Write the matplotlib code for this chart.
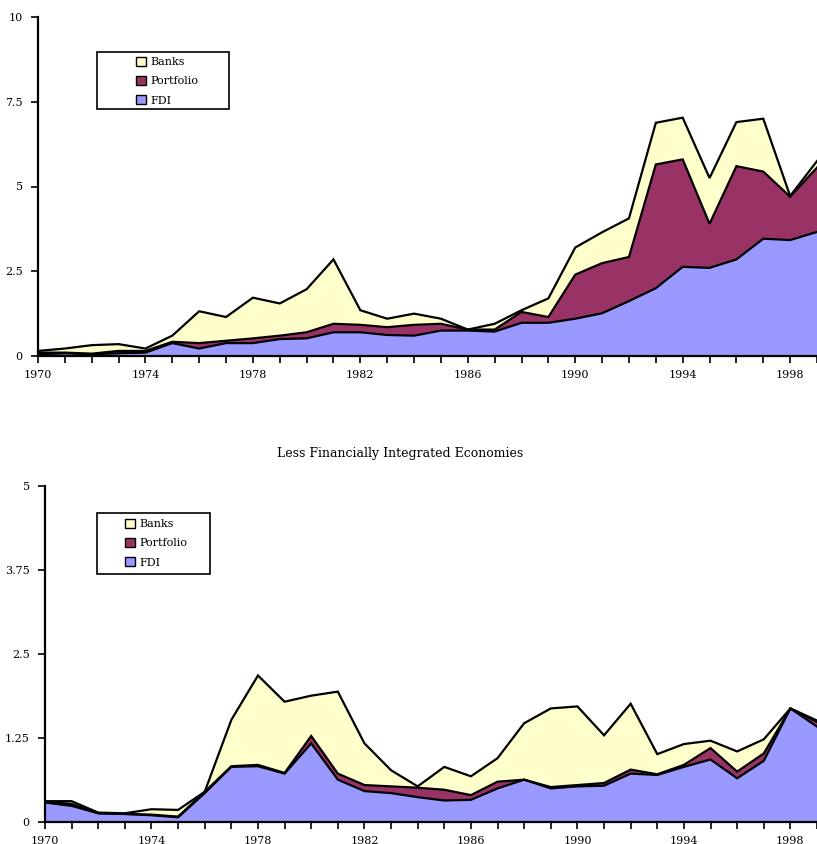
import numpy as np
import matplotlib
matplotlib.use("Agg")
import matplotlib.pyplot as plt
from matplotlib.patches import Patch, Rectangle

plt.rcParams["font.family"] = ["DejaVu Serif", "Liberation Serif"]

years = np.arange(1970, 2000)
series_names = ["Banks", "Portfolio", "FDI"]
colors = {"Banks": "#FFFFCC", "Portfolio": "#993366", "FDI": "#9999FF"}

# More financially integrated economies (top panel)
top_fdi = [0.05, 0.08, 0.05, 0.08, 0.10, 0.38, 0.22, 0.38, 0.38, 0.50,
           0.52, 0.70, 0.70, 0.62, 0.60, 0.75, 0.75, 0.72, 0.98, 0.98,
           1.10, 1.26, 1.62, 2.00, 2.63, 2.60, 2.85, 3.46, 3.42, 3.66]
top_portfolio = [0.05, 0.02, 0.02, 0.07, 0.05, 0.04, 0.16, 0.07, 0.14, 0.10,
                 0.18, 0.25, 0.22, 0.23, 0.32, 0.20, 0.03, 0.06, 0.32, 0.17,
                 1.30, 1.48, 1.30, 3.65, 3.17, 1.30, 2.75, 1.98, 1.28, 1.90]
top_banks = [0.05, 0.12, 0.25, 0.20, 0.07, 0.18, 0.94, 0.70, 1.20, 0.95,
             1.27, 1.90, 0.43, 0.25, 0.33, 0.15, 0.00, 0.17, 0.05, 0.55,
             0.80, 0.91, 1.14, 1.23, 1.23, 1.35, 1.30, 1.56, 0.02, 0.19]

# Less financially integrated economies (bottom panel)
bot_fdi = [0.29, 0.24, 0.13, 0.12, 0.10, 0.07, 0.43, 0.82, 0.83, 0.72,
           1.17, 0.63, 0.46, 0.43, 0.37, 0.32, 0.33, 0.50, 0.63, 0.50,
           0.53, 0.54, 0.72, 0.70, 0.82, 0.93, 0.65, 0.91, 1.69, 1.42]
bot_portfolio = [0.01, 0.03, 0.00, 0.00, 0.01, 0.01, 0.02, 0.01, 0.02, 0.01,
                 0.11, 0.09, 0.09, 0.10, 0.14, 0.16, 0.07, 0.10, 0.00, 0.02,
                 0.02, 0.04, 0.06, 0.01, 0.03, 0.17, 0.10, 0.11, 0.00, 0.07]
bot_banks = [0.01, 0.04, 0.01, 0.01, 0.08, 0.10, 0.00, 0.69, 1.33, 1.06,
             0.60, 1.22, 0.62, 0.24, 0.02, 0.34, 0.28, 0.35, 0.84, 1.17,
             1.17, 0.71, 0.98, 0.30, 0.31, 0.11, 0.30, 0.21, 0.00, 0.02]

top_yticks = [0, 2.5, 5, 7.5, 10]
top_yticklabels = ["0", "2.5", "5", "7.5", "10"]
bot_yticks = [0, 1.25, 2.5, 3.75, 5]
bot_yticklabels = ["0", "1.25", "2.5", "3.75", "5"]
xtick_labels = [1970, 1974, 1978, 1982, 1986, 1990, 1994, 1998]

bottom_title = "Less Financially Integrated Economies"


def draw_panel(ax, fdi, portfolio, banks, yticks, yticklabels):
    fdi = np.asarray(fdi)
    port_top = fdi + np.asarray(portfolio)
    total = port_top + np.asarray(banks)
    layers = [(np.zeros_like(fdi), fdi, "FDI"),
              (fdi, port_top, "Portfolio"),
              (port_top, total, "Banks")]
    for lo, hi, name in layers:
        ax.fill_between(years, lo, hi, facecolor=colors[name],
                        edgecolor="none", zorder=1)
    for line in (fdi, port_top, total):
        ax.plot(years, line, color="black", lw=1.6, zorder=2,
                solid_joinstyle="miter")

    ax.set_xlim(1970, 1998.74)
    ax.set_ylim(0, yticks[-1])
    ax.set_yticks(yticks)
    ax.set_yticklabels(yticklabels)
    ax.set_xticks(years, minor=True)
    ax.set_xticks(xtick_labels)
    ax.set_xticklabels([str(y) for y in xtick_labels])
    for side in ("top", "right"):
        ax.spines[side].set_visible(False)
    for side in ("left", "bottom"):
        ax.spines[side].set_linewidth(1.6)
        ax.spines[side].set_zorder(3)
    ax.tick_params(axis="both", which="both", direction="out", length=5,
                   width=1.2, labelsize=8, colors="black")
    ax.tick_params(axis="x", pad=5)
    ax.tick_params(axis="y", pad=6)
    ax.patch.set_alpha(0)


fig = plt.figure(figsize=(8.17, 8.44), dpi=100)

ax1 = fig.add_axes([38 / 817, 1 - 356 / 844, 1 - 38 / 817, 339 / 844])
draw_panel(ax1, top_fdi, top_portfolio, top_banks, top_yticks, top_yticklabels)

ax2 = fig.add_axes([45 / 817, 1 - 822 / 844, 1 - 45 / 817, 336 / 844])
draw_panel(ax2, bot_fdi, bot_portfolio, bot_banks, bot_yticks, bot_yticklabels)

fig.text(400 / 817, 1 - 453 / 844, bottom_title, ha="center", va="center",
         fontsize=9)

# legends: framed boxes with the handles pushed to the right
handles = [Patch(facecolor=colors[n], edgecolor="black", linewidth=1.0, label=n)
           for n in series_names]
legend_boxes = [((97, 52, 229, 109), 131, 61), ((97, 513, 210, 574), 120, 523)]
for (x0, y0, x1, y1), hx, row1 in legend_boxes:
    fig.patches.append(Rectangle((x0 / 817, 1 - y1 / 844), (x1 - x0) / 817,
                                 (y1 - y0) / 844, transform=fig.transFigure,
                                 facecolor="white", edgecolor="black",
                                 linewidth=1.2, zorder=5))
    leg = fig.legend(handles=handles, loc="upper left",
                     bbox_to_anchor=((hx - 3.5) / 817, 1 - (row1 - 13) / 844),
                     frameon=False, fontsize=8, handlelength=0.9,
                     handleheight=0.9, handletextpad=0.35, labelspacing=0.78,
                     borderpad=0.3)
    leg.set_zorder(6)

fig.savefig("out.png", dpi=100)
